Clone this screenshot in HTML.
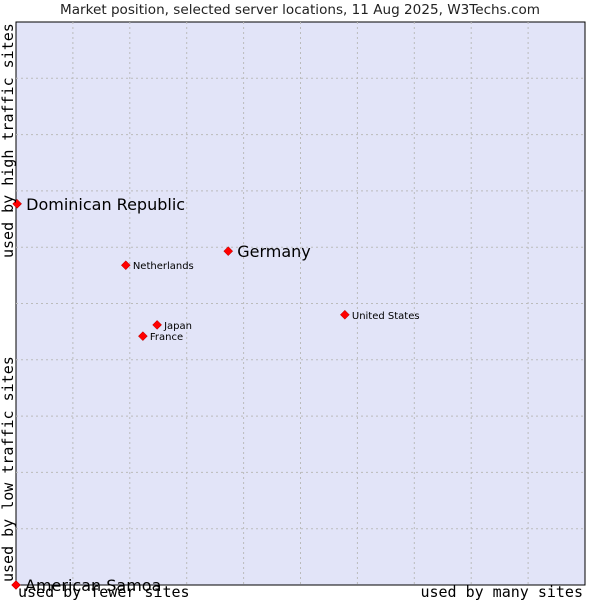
<!DOCTYPE html>
<html><head><meta charset="utf-8"><style>
body{margin:0;background:#fff;}
svg{display:block;}
</style></head><body>
<svg id="chart" width="600" height="600" xmlns="http://www.w3.org/2000/svg">
<text x="300" y="14" text-anchor="middle" font-family="DejaVu Sans, sans-serif" font-size="13.3" fill="#222" textLength="480" lengthAdjust="spacingAndGlyphs">Market position, selected server locations, 11 Aug 2025, W3Techs.com</text>
<rect x="16" y="22" width="569" height="563" fill="#e2e4f8" stroke="#000" stroke-width="1"/>
<g id="grid"></g>
<g id="marks"></g>
<text transform="translate(13,258) rotate(-90)" font-family="DejaVu Sans Mono, monospace" font-size="15" fill="#000">used by high traffic sites</text>
<text transform="translate(13,582) rotate(-90)" font-family="DejaVu Sans Mono, monospace" font-size="15" fill="#000">used by low traffic sites</text>
<text x="18" y="597" font-family="DejaVu Sans Mono, monospace" font-size="15" fill="#000">used by fewer sites</text>
<text x="583" y="597" text-anchor="end" font-family="DejaVu Sans Mono, monospace" font-size="15" fill="#000">used by many sites</text>
</svg>
<script>
const countries=["Dominican Republic","Germany","Netherlands","United States","Japan","France","American Samoa"];
const xValues=[0.2,37.3,19.3,57.8,24.8,22.3,0];
const yValues=[67.7,59.3,56.8,48.0,46.2,44.2,0];
const bigLabel=[true,true,false,false,false,false,true];
const NS="http://www.w3.org/2000/svg";
const L=16,T=22,W=569,H=563;
function sx(v){return L+v/100*W;}
function sy(v){return T+H-v/100*H;}
const grid=document.getElementById('grid');
for(let i=1;i<10;i++){
  const gx=document.createElementNS(NS,'line');
  
  
  gx.setAttribute('x1',sx(i*10));gx.setAttribute('x2',sx(i*10));gx.setAttribute('y1',T);gx.setAttribute('y2',T+H);
  gx.setAttribute('stroke','#bbb');gx.setAttribute('stroke-dasharray','2,3');
  grid.appendChild(gx);
  const gy=document.createElementNS(NS,'line');
  
  
  gy.setAttribute('y1',sy(i*10));gy.setAttribute('y2',sy(i*10));gy.setAttribute('x1',L);gy.setAttribute('x2',L+W);
  gy.setAttribute('stroke','#bbb');gy.setAttribute('stroke-dasharray','2,3');
  grid.appendChild(gy);
}
const marks=document.getElementById('marks');
countries.forEach((c,i)=>{
  const x=sx(xValues[i]),y=sy(yValues[i]);
  const p=document.createElementNS(NS,'path');
  
  
  p.setAttribute('d',`M${x-4.5} ${y}L${x} ${y-4.5}L${x+4.5} ${y}L${x} ${y+4.5}Z`);
  p.setAttribute('fill','#f00');
  p.setAttribute('stroke','#a00');
  p.setAttribute('stroke-width','0.5');
  marks.appendChild(p);
  const t=document.createElementNS(NS,'text');
  
  
  t.setAttribute('x',x+(bigLabel[i]?9:7));
  t.setAttribute('y',y+(bigLabel[i]?6:4));
  t.setAttribute('font-family','DejaVu Sans, sans-serif');
  t.setAttribute('font-size',bigLabel[i]?'16':'10');
  t.setAttribute('fill','#000');
  t.textContent=c;
  marks.appendChild(t);
});
</script>
</body></html>
